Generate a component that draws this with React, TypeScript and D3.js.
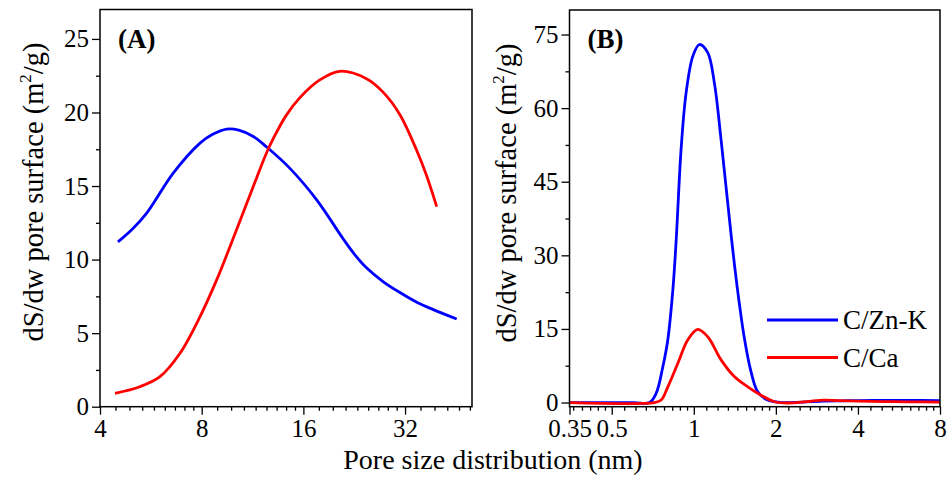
import React, { useEffect, useRef } from 'react';
import * as d3 from 'd3';

// Panel A – mesopore range (nm)
const poreZnA = [4.52, 5.0, 5.5, 6.59, 7.91, 8.6, 9.49, 10.3, 11.37, 12.46, 14.6, 17.52, 21.0, 22.7, 24.6, 27.6, 30.9, 35.0, 38.8, 45.5];
const surfZnA = [11.2, 12.1, 13.16, 15.88, 17.92, 18.5, 18.87, 18.8, 18.37, 17.65, 16.2, 14.06, 11.4, 10.34, 9.44, 8.49, 7.76, 7.05, 6.6, 5.96];
const poreCaA = [4.43, 5.25, 6.02, 6.9, 7.91, 8.86, 9.7, 11.37, 12.46, 13.03, 14.2, 15.6, 17.8, 20.5, 24.6, 27.5, 30.9, 34.6, 37.0, 39.7];
const surfCaA = [0.91, 1.36, 2.04, 3.63, 6.12, 8.62, 10.88, 14.97, 17.28, 18.22, 19.77, 20.99, 22.18, 22.8, 22.3, 21.4, 19.85, 17.45, 15.75, 13.6];

// Panel B – micropore range (nm)
const poreZnB = [0.35, 0.6, 0.688, 0.728, 0.77, 0.803, 0.838, 0.862, 0.898, 0.937, 0.992, 1.048, 1.125, 1.19, 1.259, 1.37, 1.449, 1.532, 1.621, 1.716, 1.866, 2.088, 2.5, 3.0, 3.5, 4.0, 5.0, 6.0, 8.0];
const surfZnB = [0, 0, 0, 1.9, 7.3, 12.8, 23.0, 33.2, 51.5, 63.1, 70.6, 72.96, 71.3, 65.1, 53.6, 34.2, 22.7, 13.2, 6.3, 2.2, 0.5, 0, 0.1, 0.3, 0.35, 0.4, 0.45, 0.45, 0.4];
const poreCaB = [0.35, 0.717, 0.759, 0.803, 0.874, 0.951, 1.034, 1.125, 1.259, 1.408, 1.577, 1.764, 1.974, 2.21, 2.6, 3.0, 3.4, 4.0, 5.0, 6.0, 8.0];
const surfCaB = [0, 0, 0.5, 3.2, 8.0, 12.8, 14.9, 13.4, 8.7, 5.3, 3.2, 1.5, 0.16, -0.1, 0.2, 0.5, 0.4, 0.3, 0.2, 0.15, 0.1];

const seriesNames = ['C/Zn-K', 'C/Ca'];
const seriesColors = ['#0000ff', '#ff0000'];

const xTicksA = [4, 8, 16, 32];
const yTicksA = [0, 5, 10, 15, 20, 25];
const xTicksB = [0.35, 0.5, 1, 2, 4, 8];
const yTicksB = [0, 15, 30, 45, 60, 75];

const FONT = '"Liberation Serif", "Times New Roman", serif';

// linear minor ticks inside each octave (8 per octave)
const octaveMinors = (lo: number, hi: number) => {
  const out: number[] = [];
  for (let b = Math.pow(2, Math.floor(Math.log2(lo)) - 1); b < hi; b *= 2) {
    for (let k = 1; k <= 8; k++) {
      const v = b * (1 + k / 9);
      if (v > lo && v < hi) out.push(v);
    }
  }
  return out;
};

const App = () => {
  const svgRef = useRef<SVGSVGElement | null>(null);

  useEffect(() => {
    const svg = d3.select(svgRef.current);
    svg.selectAll('*').remove();

    svg.append('rect').attr('width', 951).attr('height', 477).attr('fill', '#fff');

    const drawPanel = (opts: any) => {
      const { x0, x1, y0, y1, xDomain, yDomain, xTicks, yTicks, yMinor, series, tag } = opts;
      const xScale = d3.scaleLog().base(2).domain(xDomain).range([x0, x1]);
      const yScale = d3.scaleLinear().domain(yDomain).range([y1, y0]);

      const g = svg.append('g');

      const line = d3
        .line<[number, number]>()
        .x((d) => xScale(d[0]))
        .y((d) => yScale(d[1]))
        .curve(d3.curveCatmullRom.alpha(0.5));

      series.forEach((s: any, i: number) => {
        const pts = s.x.map((v: number, j: number) => [v, s.y[j]] as [number, number]);
        g.append('path')
          .datum(pts)
          .attr('fill', 'none')
          .attr('stroke', seriesColors[i])
          .attr('stroke-width', 2.8)
          .attr('stroke-linejoin', 'round')
          .attr('d', line);
      });

      // frame
      g.append('rect')
        .attr('x', x0)
        .attr('y', y0)
        .attr('width', x1 - x0)
        .attr('height', y1 - y0)
        .attr('fill', 'none')
        .attr('stroke', '#000')
        .attr('stroke-width', 1.5);

      // x axis major + minor
      const xMinor = octaveMinors(xDomain[0], xDomain[1]);
      const xm = g
        .append('g')
        .attr('transform', `translate(0,${y1})`)
        .call(d3.axisBottom(xScale).tickValues(xMinor).tickSize(4).tickFormat(() => ''));
      const xa = g
        .append('g')
        .attr('transform', `translate(0,${y1})`)
        .call(d3.axisBottom(xScale).tickValues(xTicks).tickSize(8).tickPadding(5).tickFormat((d: any) => String(d)));

      const ym = g
        .append('g')
        .attr('transform', `translate(${x0},0)`)
        .call(d3.axisLeft(yScale).tickValues(yMinor).tickSize(4).tickFormat(() => ''));
      const ya = g
        .append('g')
        .attr('transform', `translate(${x0},0)`)
        .call(d3.axisLeft(yScale).tickValues(yTicks).tickSize(8).tickPadding(3).tickFormat((d: any) => String(d)));

      [xm, xa, ym, ya].forEach((a) => {
        a.attr('font-family', FONT);
        a.select('.domain').remove();
        a.selectAll('line').attr('stroke', '#000').attr('stroke-width', 1.3);
        a.selectAll('text').attr('fill', '#000').attr('font-family', FONT).attr('font-size', 25);
      });

      g.append('text')
        .attr('x', x0 + 18)
        .attr('y', y0 + 38)
        .attr('font-family', FONT)
        .attr('font-weight', 'bold')
        .attr('font-size', 27)
        .text(tag);

      return { xScale, yScale };
    };

    drawPanel({
      x0: 100,
      x1: 472,
      y0: 9.5,
      y1: 406.7,
      xDomain: [4, 50.5],
      yDomain: [0, 27],
      xTicks: xTicksA,
      yTicks: yTicksA,
      yMinor: d3.range(2.5, 27, 5),
      series: [
        { x: poreZnA, y: surfZnA },
        { x: poreCaA, y: surfCaA },
      ],
      tag: '(A)',
    });

    drawPanel({
      x0: 569.5,
      x1: 940,
      y0: 10,
      y1: 406.7,
      xDomain: [0.35, 8],
      yDomain: [-0.85, 80],
      xTicks: xTicksB,
      yTicks: yTicksB,
      yMinor: d3.range(7.5, 80, 15),
      series: [
        { x: poreZnB, y: surfZnB },
        { x: poreCaB, y: surfCaB },
      ],
      tag: '(B)',
    });

    // y titles
    [
      { cx: 43, cy: 192 },
      { cx: 516, cy: 193 },
    ].forEach((p) => {
      const t = svg
        .append('text')
        .attr('transform', `translate(${p.cx},${p.cy}) rotate(-90)`)
        .attr('text-anchor', 'middle')
        .attr('font-family', FONT)
        .attr('font-size', 28.5)
        .attr('fill', '#000');
      t.append('tspan').text('dS/dw pore surface (m');
      t.append('tspan').attr('font-size', 17).attr('dy', -12).text('2');
      t.append('tspan').attr('dy', 12).text('/g)');
    });

    // x title
    svg
      .append('text')
      .attr('x', 493)
      .attr('y', 469)
      .attr('text-anchor', 'middle')
      .attr('font-family', FONT)
      .attr('font-size', 28)
      .attr('fill', '#000')
      .text('Pore size distribution (nm)');

    // legend
    seriesNames.forEach((name, i) => {
      const ly = 320 + i * 37.5;
      svg
        .append('line')
        .attr('x1', 767)
        .attr('x2', 838)
        .attr('y1', ly)
        .attr('y2', ly)
        .attr('stroke', seriesColors[i])
        .attr('stroke-width', 2.8);
      svg
        .append('text')
        .attr('x', 843)
        .attr('y', ly + 9)
        .attr('font-family', FONT)
        .attr('font-size', 27)
        .attr('fill', '#000')
        .text(name);
    });
  }, []);

  return (
    <svg
      ref={svgRef}
      width={951}
      height={477}
      style={{ position: 'absolute', left: 0, top: 0, display: 'block' }}
    ></svg>
  );
};

export default App;
